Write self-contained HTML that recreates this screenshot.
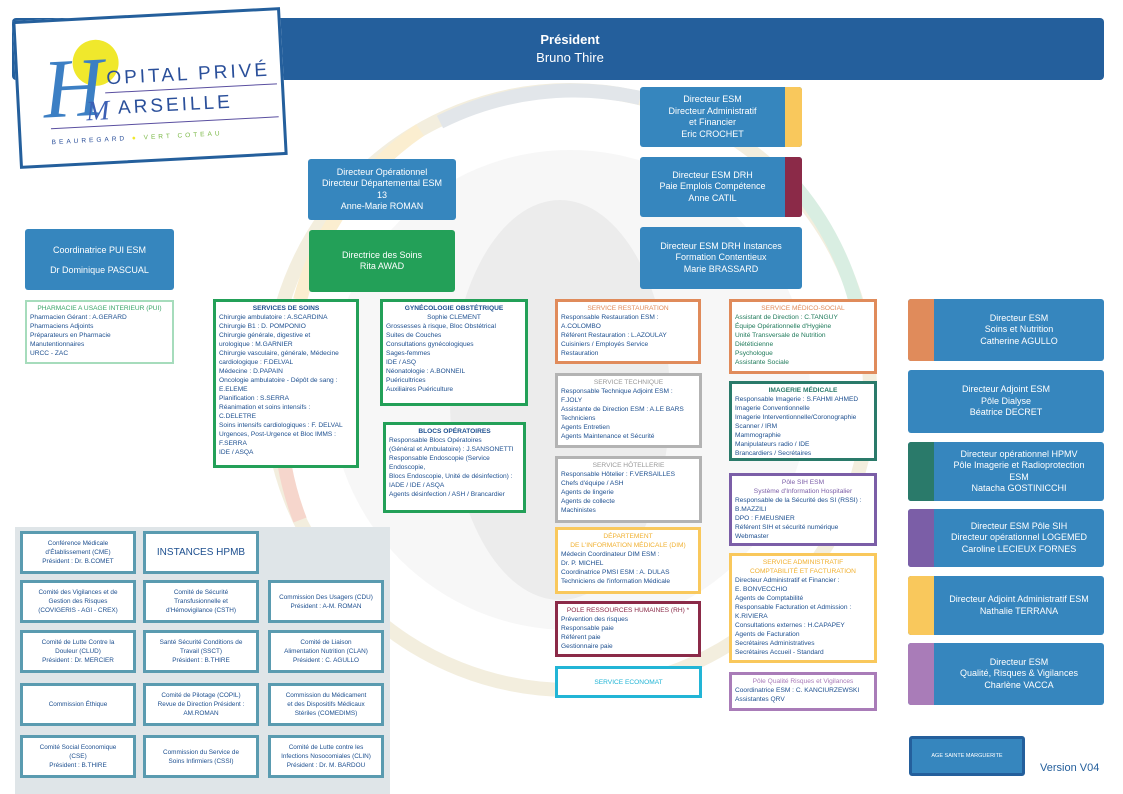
<!DOCTYPE html>
<html><head><meta charset="utf-8"><style>
*{margin:0;padding:0;box-sizing:border-box}
body{width:1123px;height:794px;position:relative;overflow:hidden;background:#fff;font-family:"Liberation Sans",sans-serif}
.a{position:absolute}
.bl{background:#3686be;color:#fff;text-align:center;font-size:9px;line-height:11.5px;display:flex;flex-direction:column;justify-content:center;border-radius:3px}
.bx{position:absolute;background:#fff;border:3px solid;font-size:6.6px;line-height:9px;color:#1d4f8f;padding:2px 3px;overflow:hidden;white-space:nowrap}
.bx .t{text-align:center}
.cm{position:absolute;background:#fff;border:3px solid #5a9bb0;font-size:6.4px;line-height:9px;color:#1d4f8f;text-align:center;display:flex;flex-direction:column;justify-content:center;width:116px;height:43px}
.rc{position:absolute;left:908px;width:196px;background:#3686be;color:#fff;font-size:9px;line-height:11.5px;text-align:center;display:flex;flex-direction:column;justify-content:center;border-radius:3px;padding-left:26px}
.rc i{position:absolute;left:0;top:0;bottom:0;width:26px;border-radius:3px 0 0 3px}
.lg{position:absolute;white-space:nowrap;line-height:1}
</style></head><body>
<svg class="a" style="left:0;top:0" width="1123" height="794">
<circle cx="570" cy="390" r="300" fill="none" stroke="#f3eede" stroke-width="14"/>
<path d="M300 300 A300 300 0 0 1 420 130" fill="none" stroke="#fbeed0" stroke-width="14"/>
<path d="M440 122 A300 300 0 0 1 640 98" fill="none" stroke="#e2e6ea" stroke-width="14"/>
<path d="M280 420 A300 300 0 0 0 300 520" fill="none" stroke="#f6d6cc" stroke-width="14"/>
<path d="M790 180 A300 300 0 0 1 860 320" fill="none" stroke="#d9eee2" stroke-width="14"/>
<circle cx="570" cy="390" r="240" fill="#f7f7f7"/>
<ellipse cx="560" cy="400" rx="110" ry="200" fill="#ececec"/>
</svg>
<div class="a" style="left:12px;top:18px;width:1092px;height:62px;background:#245f9c;border-radius:4px"></div>
<div class="a" style="left:420px;top:31px;width:300px;text-align:center;color:#fff;font-size:13px;line-height:18px"><b>Président</b><br>Bruno Thire</div>
<div class="a" style="left:16px;top:14px;width:268px;height:148px;background:#fff;border:3px solid #245f9c;transform:rotate(-3deg)">
<div class="a" style="left:55px;top:20px;width:46px;height:46px;border-radius:50%;background:#f0e82c"></div>
<div class="lg" style="left:24px;top:26px;font-size:84px;color:#3c7fc4;font-family:'Liberation Serif',serif;font-style:italic">H</div>
<div class="lg" style="left:88px;top:50px;font-size:19px;letter-spacing:3px;color:#2a4f9a">OPITAL PRIVÉ</div>
<div class="a" style="left:86px;top:73px;width:172px;height:1px;background:#5a4fa0"></div>
<div class="lg" style="left:66px;top:78px;font-size:28px;font-family:'Liberation Serif',serif;font-style:italic;color:#3c5fb4">M</div>
<div class="lg" style="left:98px;top:80px;font-size:19px;letter-spacing:3px;color:#2a4f9a">ARSEILLE</div>
<div class="a" style="left:30px;top:106px;width:228px;height:1px;background:#5a4fa0"></div>
<div class="lg" style="left:30px;top:118px;font-size:6.5px;letter-spacing:3px;color:#2a4f9a">BEAUREGARD <span style="color:#f0e82c">●</span> <span style="color:#7ab846">VERT COTEAU</span></div>
</div>
<div class="a bl" style="left:25px;top:229px;width:149px;height:61px;line-height:20px">Coordinatrice PUI ESM<br>Dr Dominique PASCUAL</div>
<div class="bx" style="left:25px;top:300px;width:149px;height:64px;border-color:#a6dcbc;border-width:2px"><div class="t" style="color:#3aa468">PHARMACIE A USAGE INTERIEUR (PUI)</div>Pharmacien Gérant : A.GERARD<br>Pharmaciens Adjoints<br>Préparateurs en Pharmacie<br>Manutentionnaires<br>URCC - ZAC</div>
<div class="a bl" style="left:308px;top:159px;width:148px;height:61px">Directeur Opérationnel<br>Directeur Départemental ESM<br>13<br>Anne-Marie ROMAN</div>
<div class="a bl" style="left:309px;top:230px;width:146px;height:62px;background:#23a058">Directrice des Soins<br>Rita AWAD</div>
<div class="a bl" style="left:640px;top:87px;width:162px;height:60px;padding-right:17px">Directeur ESM<br>Directeur Administratif<br>et Financier<br>Eric CROCHET</div>
<div class="a" style="left:785px;top:87px;width:17px;height:60px;background:#f9c85c;border-radius:0 3px 3px 0"></div>
<div class="a bl" style="left:640px;top:157px;width:162px;height:60px;padding-right:17px">Directeur ESM DRH<br>Paie Emplois Compétence<br>Anne CATIL</div>
<div class="a" style="left:785px;top:157px;width:17px;height:60px;background:#8b2a48;border-radius:0 3px 3px 0"></div>
<div class="a bl" style="left:640px;top:227px;width:162px;height:62px">Directeur ESM DRH Instances<br>Formation Contentieux<br>Marie BRASSARD</div>

<div class="bx" style="left:213px;top:299px;width:146px;height:169px;border-color:#23a058"><div class="t"><b>SERVICES DE SOINS</b></div>Chirurgie ambulatoire : A.SCARDINA<br>Chirurgie B1 : D. POMPONIO<br>Chirurgie générale, digestive et<br>urologique : M.GARNIER<br>Chirurgie vasculaire, générale, Médecine<br>cardiologique : F.DELVAL<br>Médecine : D.PAPAIN<br>Oncologie ambulatoire - Dépôt de sang :<br>E.ELEME<br>Planification : S.SERRA<br>Réanimation et soins intensifs :<br>C.DELETRE<br>Soins intensifs cardiologiques : F. DELVAL<br>Urgences, Post-Urgence et Bloc IMMS :<br>F.SERRA<br>IDE / ASQA</div>
<div class="bx" style="left:380px;top:299px;width:148px;height:107px;border-color:#23a058"><div class="t"><b>GYNÉCOLOGIE OBSTÉTRIQUE</b><br>Sophie CLEMENT</div>Grossesses à risque, Bloc Obstétrical<br>Suites de Couches<br>Consultations gynécologiques<br>Sages-femmes<br>IDE / ASQ<br>Néonatologie : A.BONNEIL<br>Puéricultrices<br>Auxiliaires Puériculture</div>
<div class="bx" style="left:383px;top:422px;width:143px;height:91px;border-color:#23a058"><div class="t"><b>BLOCS OPÉRATOIRES</b></div>Responsable Blocs Opératoires<br>(Général et Ambulatoire) : J.SANSONETTI<br>Responsable Endoscopie (Service<br>Endoscopie,<br>Blocs Endoscopie, Unité de désinfection) :<br>IADE / IDE / ASQA<br>Agents désinfection / ASH / Brancardier</div>

<div class="bx" style="left:555px;top:299px;width:146px;height:65px;border-color:#e08b5b"><div class="t" style="color:#e08b5b">SERVICE RESTAURATION</div>Responsable Restauration ESM :<br>A.COLOMBO<br>Référent Restauration : L.AZOULAY<br>Cuisiniers / Employés Service<br>Restauration</div>
<div class="bx" style="left:555px;top:373px;width:147px;height:75px;border-color:#b3b3b3"><div class="t" style="color:#999">SERVICE TECHNIQUE</div>Responsable Technique Adjoint ESM :<br>F.JOLY<br>Assistante de Direction ESM : A.LE BARS<br>Techniciens<br>Agents Entretien<br>Agents Maintenance et Sécurité</div>
<div class="bx" style="left:555px;top:456px;width:147px;height:67px;border-color:#b3b3b3"><div class="t" style="color:#999">SERVICE HÔTELLERIE</div>Responsable Hôtelier : F.VERSAILLES<br>Chefs d'équipe / ASH<br>Agents de lingerie<br>Agents de collecte<br>Machinistes</div>
<div class="bx" style="left:555px;top:527px;width:146px;height:67px;border-color:#f9c85c"><div class="t" style="color:#f0b030">DÉPARTEMENT<br>DE L'INFORMATION MÉDICALE (DIM)</div>Médecin Coordinateur DIM ESM :<br>Dr. P. MICHEL<br>Coordinatrice PMSI ESM : A. DULAS<br>Techniciens de l'information Médicale</div>
<div class="bx" style="left:555px;top:601px;width:146px;height:56px;border-color:#8b2a48"><div class="t" style="color:#8b2a48">POLE RESSOURCES HUMAINES (RH) *</div>Prévention des risques<br>Responsable paie<br>Référent paie<br>Gestionnaire paie</div>
<div class="bx" style="left:555px;top:666px;width:147px;height:32px;border-color:#22b5d6;display:flex;align-items:center;justify-content:center;color:#22b5d6">SERVICE ECONOMAT</div>

<div class="bx" style="left:729px;top:299px;width:148px;height:75px;border-color:#e08b5b;color:#1f7a5a"><div class="t" style="color:#e08b5b">SERVICE MÉDICO-SOCIAL</div>Assistant de Direction : C.TANGUY<br>Équipe Opérationnelle d'Hygiène<br>Unité Transversale de Nutrition<br>Diététicienne<br>Psychologue<br>Assistante Sociale</div>
<div class="bx" style="left:729px;top:381px;width:148px;height:80px;border-color:#2a7a6a"><div class="t" style="color:#2a7a6a"><b>IMAGERIE MÉDICALE</b></div>Responsable Imagerie : S.FAHMI AHMED<br>Imagerie Conventionnelle<br>Imagerie Interventionnelle/Coronographie<br>Scanner / IRM<br>Mammographie<br>Manipulateurs radio / IDE<br>Brancardiers / Secrétaires</div>
<div class="bx" style="left:729px;top:473px;width:148px;height:73px;border-color:#7b5ea7"><div class="t" style="color:#7b5ea7">Pôle SIH ESM<br>Système d'Information Hospitalier</div>Responsable de la Sécurité des SI (RSSI) :<br>B.MAZZILI<br>DPO : F.MEUSNIER<br>Référent SIH et sécurité numérique<br>Webmaster</div>
<div class="bx" style="left:729px;top:553px;width:148px;height:110px;border-color:#f9c85c"><div class="t" style="color:#f0b030">SERVICE ADMINISTRATIF<br>COMPTABILITÉ ET FACTURATION</div>Directeur Administratif et Financier :<br>E. BONVECCHIO<br>Agents de Comptabilité<br>Responsable Facturation et Admission :<br>K.RIVIERA<br>Consultations externes : H.CAPAPEY<br>Agents de Facturation<br>Secrétaires Administratives<br>Secrétaires Accueil - Standard</div>
<div class="bx" style="left:729px;top:672px;width:148px;height:39px;border-color:#a97cb8"><div class="t" style="color:#a97cb8">Pôle Qualité Risques et Vigilances</div>Coordinatrice ESM : C. KANCIURZEWSKI<br>Assistantes QRV</div>

<div class="rc" style="top:299px;height:62px"><i style="background:#e08b5b"></i>Directeur ESM<br>Soins et Nutrition<br>Catherine AGULLO</div>
<div class="rc" style="top:370px;height:63px;padding-left:0">Directeur Adjoint ESM<br>Pôle Dialyse<br>Béatrice DECRET</div>
<div class="rc" style="top:442px;height:59px"><i style="background:#2a7a6a"></i>Directeur opérationnel HPMV<br>Pôle Imagerie et Radioprotection<br>ESM<br>Natacha GOSTINICCHI</div>
<div class="rc" style="top:509px;height:58px"><i style="background:#7b5ea7"></i>Directeur ESM Pôle SIH<br>Directeur opérationnel LOGEMED<br>Caroline LECIEUX FORNES</div>
<div class="rc" style="top:576px;height:59px"><i style="background:#f9c85c"></i>Directeur Adjoint Administratif ESM<br>Nathalie TERRANA</div>
<div class="rc" style="top:643px;height:62px"><i style="background:#a97cb8"></i>Directeur ESM<br>Qualité, Risques &amp; Vigilances<br>Charlène VACCA</div>
<div class="a" style="left:909px;top:736px;width:116px;height:40px;background:#3686be;border:3px solid #245f9c;border-radius:3px;color:#fff;font-size:5.5px;display:flex;align-items:center;justify-content:center">AGE SAINTE MARGUERITE</div>
<div class="a" style="left:1040px;top:762px;font-size:11px;color:#245f9c">Version V04</div>

<div class="a" style="left:15px;top:527px;width:375px;height:267px;background:#dfe5e8"></div>
<div class="cm" style="left:20px;top:531px">Conférence Médicale<br>d'Établissement (CME)<br>Président : Dr. B.COMET</div>
<div class="cm" style="left:143px;top:531px;font-size:10px">INSTANCES HPMB</div>
<div class="cm" style="left:20px;top:580px">Comité des Vigilances et de<br>Gestion des Risques<br>(COVIGERIS - AGI - CREX)</div>
<div class="cm" style="left:143px;top:580px">Comité de Sécurité<br>Transfusionnelle et<br>d'Hémovigilance (CSTH)</div>
<div class="cm" style="left:268px;top:580px">Commission Des Usagers (CDU)<br>Président : A-M. ROMAN</div>
<div class="cm" style="left:20px;top:630px">Comité de Lutte Contre la<br>Douleur (CLUD)<br>Président : Dr. MERCIER</div>
<div class="cm" style="left:143px;top:630px">Santé Sécurité Conditions de<br>Travail (SSCT)<br>Président : B.THIRE</div>
<div class="cm" style="left:268px;top:630px">Comité de Liaison<br>Alimentation Nutrition (CLAN)<br>Président : C. AGULLO</div>
<div class="cm" style="left:20px;top:683px">Commission Éthique</div>
<div class="cm" style="left:143px;top:683px">Comité de Pilotage (COPIL)<br>Revue de Direction Président :<br>AM.ROMAN</div>
<div class="cm" style="left:268px;top:683px">Commission du Médicament<br>et des Dispositifs Médicaux<br>Stériles (COMEDIMS)</div>
<div class="cm" style="left:20px;top:735px">Comité Social Economique<br>(CSE)<br>Président : B.THIRE</div>
<div class="cm" style="left:143px;top:735px">Commission du Service de<br>Soins Infirmiers (CSSI)</div>
<div class="cm" style="left:268px;top:735px">Comité de Lutte contre les<br>Infections Nosocomiales (CLIN)<br>Président : Dr. M. BARDOU</div>
</body></html>
